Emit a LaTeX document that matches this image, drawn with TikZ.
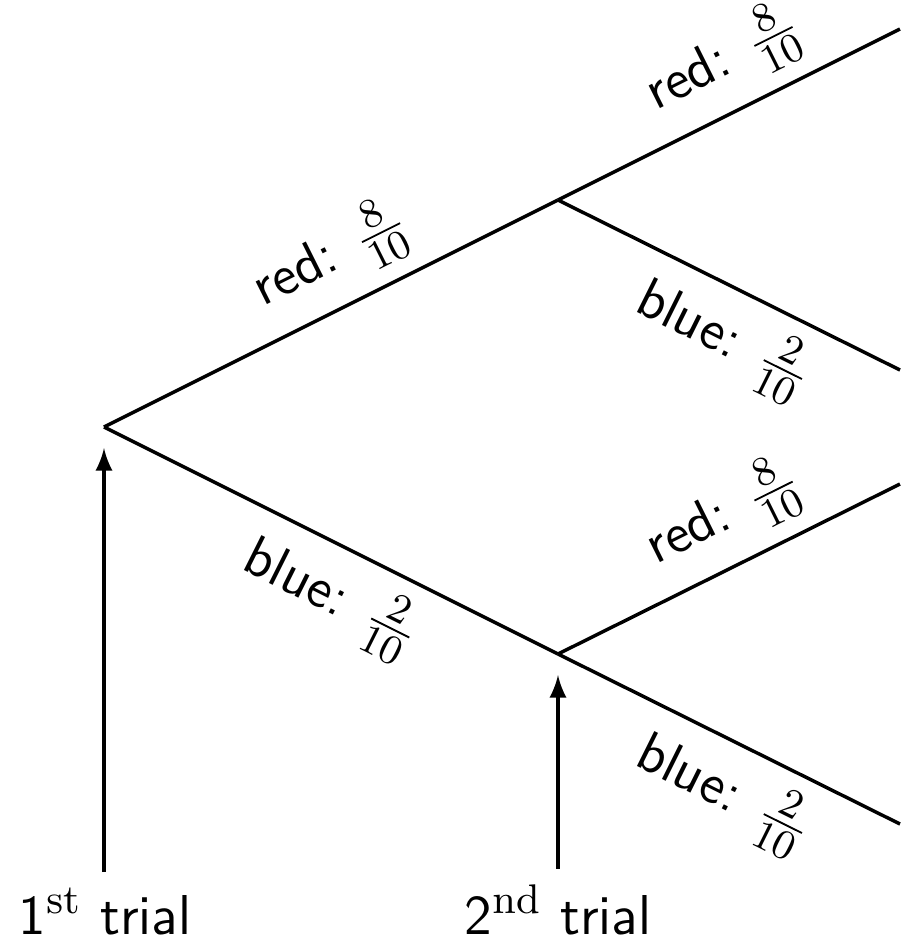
\documentclass[tikz,border=0pt]{standalone}
\usetikzlibrary{arrows}
\begin{document}
\begin{tikzpicture}[x=0.2171pt,y=-0.2171pt,
  every node/.style={font=\fontsize{12.2}{14.5}\selectfont\sffamily},
  branch/.style={line width=0.75pt},
  lbl/.style={sloped, pos=0.55},
  pointer/.style={line width=0.7pt,-latex}]
\useasboundingbox (0,0) rectangle (908,942);
\coordinate (root) at (104,427);
\coordinate (up) at (558,200);
\coordinate (down) at (558,654);
\coordinate (l1) at (900,29);
\coordinate (l2) at (900,370);
\coordinate (l3) at (900,484);
\coordinate (l4) at (900,824);
\draw[branch] (root) -- node[lbl,above] {red: $\frac{8}{10}$} (up);
\draw[branch] (root) -- node[lbl,below] {blue: $\frac{2}{10}$} (down);
\draw[branch] (up) -- node[lbl,above] {red: $\frac{8}{10}$} (l1);
\draw[branch] (up) -- node[lbl,below] {blue: $\frac{2}{10}$} (l2);
\draw[branch] (down) -- node[lbl,above] {red: $\frac{8}{10}$} (l3);
\draw[branch] (down) -- node[lbl,below] {blue: $\frac{2}{10}$} (l4);
\node[anchor=base] (t1) at (105,934) {1$^{\mathrm{st}}$ trial};
\node[anchor=base] (t2) at (558,934) {2$^{\mathrm{nd}}$ trial};
\coordinate (a1) at (104,448);
\coordinate (a2) at (558,675);
\draw[pointer] (t1.north -| a1) -- (a1);
\draw[pointer] (t2.north -| a2) -- (a2);
\end{tikzpicture}
\end{document}
